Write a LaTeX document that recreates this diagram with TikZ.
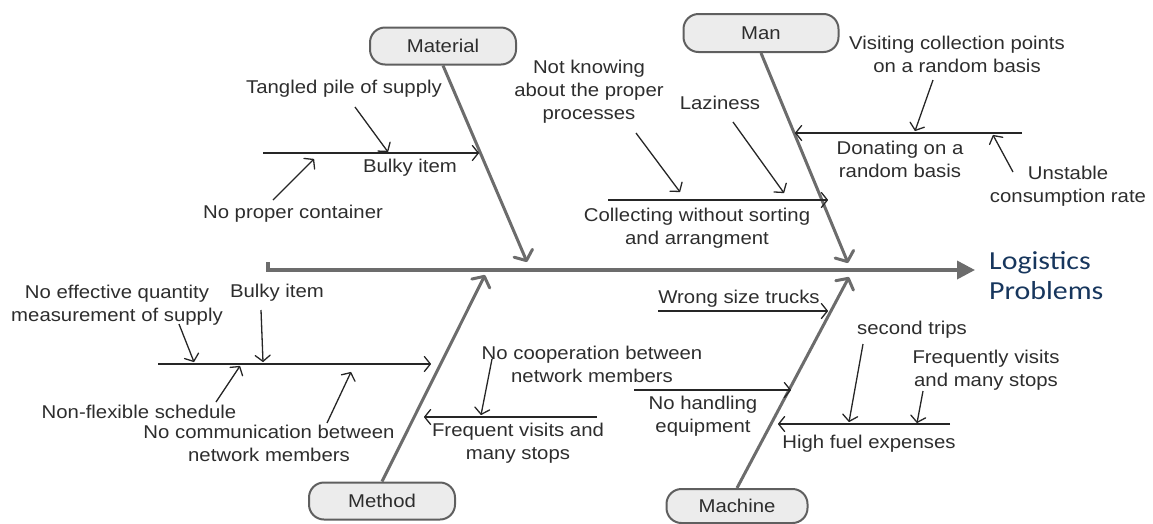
\documentclass[tikz,border=0pt]{standalone}
\usepackage{fontspec}
\setmainfont{Liberation Sans}[FakeStretch=1.1]
\newfontfamily\titlefont{Carlito}[FakeStretch=1.15]
\usetikzlibrary{arrows.meta}
\definecolor{bonegray}{RGB}{108,108,108}
\definecolor{boxfill}{RGB}{236,236,236}
\definecolor{boxline}{RGB}{95,95,95}
\definecolor{txt}{RGB}{45,45,45}
\definecolor{navy}{RGB}{23,54,93}
\begin{document}
\begin{tikzpicture}[x=1pt,y=-1pt,
  catbox/.style={draw=boxline, line width=2pt, fill=boxfill, rounded corners=15pt,
    minimum width=146pt, minimum height=37pt, inner sep=0pt,
    font=\fontsize{18.5}{23}\selectfont, text=txt},
  lbl/.style={font=\fontsize{18.5}{23}\selectfont, text=txt, align=center, inner sep=0pt},
  bone/.style={draw=bonegray, line width=3pt, -{Straight Barb[length=8pt,width=20pt,round]}},
  sub/.style={draw=black!85, line width=1.3pt, -{Straight Barb[length=6pt,width=15pt,round]}},
  twig/.style={draw=black!85, line width=1.3pt, -{Straight Barb[length=6pt,width=15pt,round]}},
]
\useasboundingbox (0,0) rectangle (1153,523);

% spine
\coordinate (spA) at (268,262);
\coordinate (spB) at (268,270);
\coordinate (spC) at (975,270);
\draw[draw=bonegray, line width=3.5pt, line join=miter, -{Triangle[length=18pt,width=18pt]}] (spA) -- (spB) -- (spC);
\node[font=\titlefont\fontsize{26}{30}\selectfont, text=navy, align=left, anchor=west, inner sep=0pt] (goal) at (989,276) {Logistics\\Problems};

% ---------- Material ----------
\node[catbox] (matbox) at (443,46) {Material};
\coordinate (matTip) at (527,262);
\draw[bone] (matbox.south) -- (matTip);
\coordinate (mA) at (263,153); \coordinate (mB) at (479,153);
\draw[sub] (mA) -- (mB);
\node[lbl] (m1) at (344,89) {Tangled pile of supply};
\coordinate (m1s) at (355,107); \coordinate (m1e) at (388,152);
\draw[twig] (m1s) -- (m1e);
\node[lbl] (m2) at (410,168) {Bulky item};
\node[lbl] (m3) at (293,214) {No proper container};
\coordinate (m3s) at (273,200); \coordinate (m3e) at (314,159);
\draw[twig] (m3s) -- (m3e);

% ---------- Man ----------
\node[catbox, minimum width=155pt, minimum height=38pt] (manbox) at (761,33) {Man};
\coordinate (manTip) at (848,263);
\draw[bone] (manbox.south) -- (manTip);
\coordinate (nA) at (1022,133); \coordinate (nB) at (795,133);
\draw[sub] (nA) -- (nB);
\node[lbl] (n1) at (957,54) {Visiting collection points\\on a random basis};
\coordinate (n1s) at (933,80); \coordinate (n1e) at (915,131);
\draw[twig] (n1s) -- (n1e);
\node[lbl] (n2) at (900,159) {Donating on a\\random basis};
\node[lbl] (n3) at (1068,186) {Unstable\\consumption rate};
\coordinate (n3s) at (1013,172); \coordinate (n3e) at (993,135);
\draw[twig] (n3s) -- (n3e);
\coordinate (nC) at (608,200); \coordinate (nD) at (828,200);
\draw[sub] (nC) -- (nD);
\node[lbl] (n4) at (697,228) {Collecting without sorting\\and arrangment};
\node[lbl] (n5) at (589,92) {Not knowing\\about the proper\\processes};
\coordinate (n5s) at (636,133); \coordinate (n5e) at (680,192);
\draw[twig] (n5s) -- (n5e);
\node[lbl] (n6) at (720,103) {Laziness};
\coordinate (n6s) at (733,122); \coordinate (n6e) at (784,193);
\draw[twig] (n6s) -- (n6e);

% ---------- Method ----------
\node[catbox] (methbox) at (382,501) {Method};
\coordinate (methTip) at (485,275);
\draw[bone] (methbox.north) -- (methTip);
\coordinate (tA) at (158,364); \coordinate (tB) at (431,364);
\draw[sub] (tA) -- (tB);
\node[lbl] (t1) at (117,305) {No effective quantity\\measurement of supply};
\coordinate (t1s) at (179,324); \coordinate (t1e) at (194,362);
\draw[twig] (t1s) -- (t1e);
\node[lbl] (t2) at (277,293) {Bulky item};
\coordinate (t2s) at (261,310); \coordinate (t2e) at (263,362);
\draw[twig] (t2s) -- (t2e);
\node[lbl] (t3) at (139,412) {Non-flexible schedule};
\coordinate (t3s) at (216,402); \coordinate (t3e) at (240,366);
\draw[twig] (t3s) -- (t3e);
\node[lbl] (t4) at (269,443) {No communication between\\network members};
\coordinate (t4s) at (327,423); \coordinate (t4e) at (351,372);
\draw[twig] (t4s) -- (t4e);
\coordinate (tC) at (597,417); \coordinate (tD) at (424,417);
\draw[sub] (tC) -- (tD);
\node[lbl] (t5) at (518,443) {Frequent visits and\\many stops};
\node[lbl] (t6) at (592,364) {No cooperation between\\network members};
\coordinate (t6s) at (492,359); \coordinate (t6e) at (481,415);
\draw[twig] (t6s) -- (t6e);

% ---------- Machine ----------
\node[catbox, minimum width=141pt, minimum height=34pt] (machbox) at (737,506) {Machine};
\coordinate (machTip) at (849,277);
\draw[bone] (machbox.north) -- (machTip);
\coordinate (kA) at (658,311); \coordinate (kB) at (828,311);
\draw[sub] (kA) -- (kB);
\node[lbl] (k1) at (739,299) {Wrong size trucks};
\coordinate (kC) at (634,390); \coordinate (kD) at (791,390);
\draw[sub] (kC) -- (kD);
\node[lbl] (k2) at (703,416) {No handling\\equipment};
\coordinate (kE) at (950,424); \coordinate (kF) at (778,424);
\draw[sub] (kE) -- (kF);
\node[lbl] (k3) at (869,444) {High fuel expenses};
\node[lbl] (k4) at (912,330) {second trips};
\coordinate (k4s) at (863,344); \coordinate (k4e) at (849,422);
\draw[twig] (k4s) -- (k4e);
\node[lbl] (k5) at (986,370) {Frequently visits\\and many stops};
\coordinate (k5s) at (923,391); \coordinate (k5e) at (917,423);
\draw[twig] (k5s) -- (k5e);
\end{tikzpicture}
\end{document}
